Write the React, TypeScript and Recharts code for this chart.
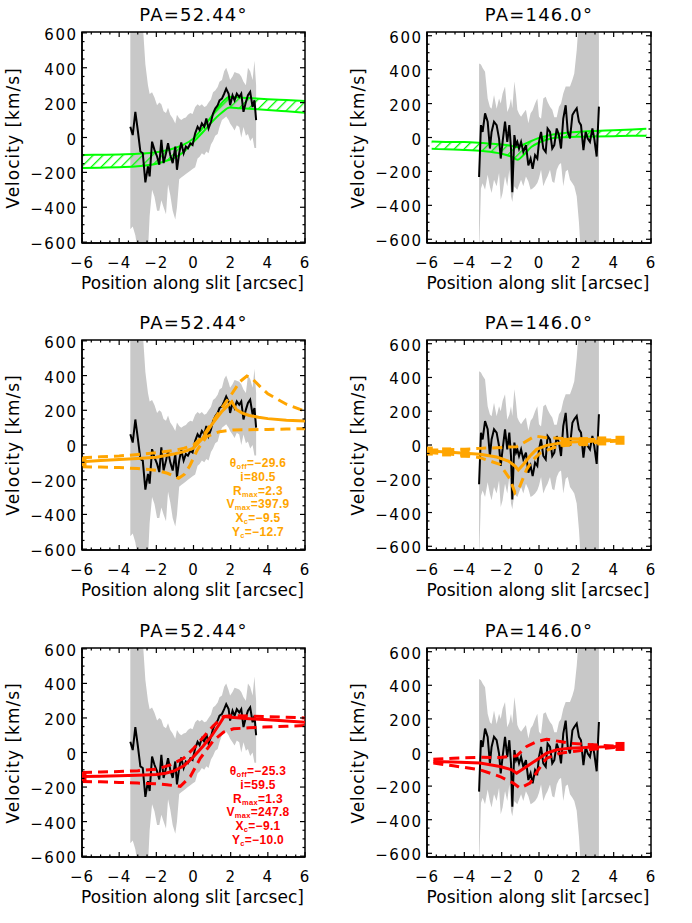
import React from 'react'
import { ComposedChart, Area, Line, Scatter, XAxis, YAxis, ReferenceArea } from 'recharts'

// observed slit, PA = 52.44
const obsX52 = [-3.40, -3.27, -3.13, -3.00, -2.86, -2.73, -2.59, -2.45, -2.36, -2.23, -2.10, -1.96, -1.84, -1.73, -1.61, -1.48, -1.37, -1.25, -1.12, -0.98, -0.89, -0.77, -0.66, -0.53, -0.41, -0.30, -0.17, -0.05, 0.09, 0.22, 0.33, 0.45, 0.58, 0.69, 0.81, 0.94, 1.05, 1.17, 1.30, 1.40, 1.53, 1.65, 1.76, 1.89, 1.97, 2.10, 2.21, 2.33, 2.46, 2.57, 2.69, 2.82, 2.93, 3.05, 3.18, 3.28, 3.37]
const obsV52 = [62, 14, 147, 43, -80, -90, -257, -166, -223, -24, -71, -109, -156, -14, -147, -90, -33, -100, -147, -52, -185, -90, -29, -90, -52, -62, -33, -43, 24, 62, 43, 81, 62, 109, 52, 90, 137, 166, 185, 213, 223, 251, 280, 251, 185, 242, 213, 251, 232, 251, 147, 204, 242, 261, 175, 213, 100]
const errHi52 = [700, 700, 700, 700, 700, 650, 420, 300, 250, 260, 230, 185, 200, 190, 150, 140, 170, 130, 110, 80, 130, 110, 100, 110, 115, 130, 140, 135, 175, 190, 180, 190, 175, 180, 200, 220, 260, 270, 290, 320, 330, 380, 400, 360, 330, 350, 375, 370, 365, 350, 320, 300, 400, 380, 330, 440, 300]
const errLo52 = [-526, -510, -560, -650, -650, -650, -650, -650, -450, -300, -340, -420, -420, -360, -400, -440, -270, -330, -420, -470, -400, -240, -230, -220, -210, -200, -190, -180, -170, -120, -110, -90, -100, -80, -90, -40, -20, 10, 20, 60, 100, 110, 120, 100, 80, 60, 40, 70, 60, 0, 60, 10, 20, -20, 0, -60, -60]

// observed slit, PA = 146.0
const obsX146 = [-3.21, -3.11, -3.02, -2.89, -2.75, -2.63, -2.54, -2.41, -2.27, -2.14, -2.05, -1.95, -1.82, -1.70, -1.59, -1.50, -1.43, -1.32, -1.23, -1.16, -1.07, -0.96, -0.84, -0.70, -0.57, -0.45, -0.34, -0.21, -0.09, 0.00, 0.11, 0.23, 0.36, 0.46, 0.59, 0.71, 0.82, 0.95, 1.07, 1.18, 1.30, 1.43, 1.54, 1.66, 1.79, 1.89, 2.02, 2.14, 2.25, 2.38, 2.50, 2.61, 2.73, 2.86, 2.96, 3.09, 3.21]
const obsV146 = [-233, 73, 33, 142, 93, -65, 33, 93, 73, -6, -124, -26, 93, -26, 73, -65, -322, 14, -45, -26, -65, -26, -85, -45, -164, -124, -184, -104, -124, -26, 33, -65, -85, 53, 33, -65, -45, 53, 14, -65, 112, 190, 33, -6, 132, 152, 172, 93, 73, -75, 33, -6, -26, 53, -6, -112, 182]
const errHi146 = [437, 430, 410, 388, 230, 180, 170, 250, 170, 230, 200, 260, 300, 150, 180, 230, 172, 330, 250, 163, 140, 123, 143, 163, 84, 143, 160, 200, 230, 123, 110, 230, 240, 210, 182, 163, 120, 120, 182, 200, 260, 300, 300, 300, 340, 378, 515, 700, 700, 700, 700, 700, 700, 700, 700, 700, 700]
const errLo146 = [-700, -300, -270, -308, -220, -290, -327, -249, -288, -210, -367, -327, -229, -288, -190, -347, -380, -288, -300, -308, -280, -249, -288, -230, -260, -308, -300, -288, -268, -240, -190, -288, -250, -229, -190, -260, -268, -190, -160, -151, -288, -200, -190, -249, -270, -288, -347, -500, -700, -700, -700, -700, -700, -700, -700, -700, -700]

// hatched model range (top row)
const bandX52 = [-6, -5, -4, -3, -2, -1.5, -1, -0.5, 0, 0.5, 1, 1.5, 1.95, 2.5, 3, 4, 5, 6]
const bandHi52 = [-100, -99, -97, -93, -85, -75, -60, -40, -5, 55, 125, 195, 234, 229, 226, 220, 215, 210]
const bandLo52 = [-175, -173, -170, -165, -150, -135, -115, -80, -25, 30, 90, 140, 172, 168, 165, 158, 150, 142]
const bandX146 = [-5.75, -5, -4, -3, -2, -1.5, -1.15, -0.8, -0.4, 0, 0.5, 1, 1.5, 2, 3, 4, 5, 5.75]
const bandHi146 = [-24, -26, -27, -33, -41, -49, -57, -40, -20, -2, 12, 22, 28, 33, 39, 43, 47, 51]
const bandLo146 = [-67, -70, -73, -80, -96, -112, -131, -100, -55, -30, -10, 0, 2, 4, 6, 8, 10, 10]

// orange fit (middle row)
const fitOX52 = [-6, -5, -4, -3, -2, -1, -0.5, 0, 0.5, 1, 1.5, 2.06, 2.3, 2.6, 3, 3.5, 4, 5, 6]
const fitOV52 = [-96, -90, -84, -78, -70, -50, -38, -18, 40, 120, 190, 250, 205, 185, 170, 160, 152, 143, 138]
const upOX52 = [-6, -5, -4, -3, -2, -1, -0.5, 0, 0.5, 1, 1.5, 2, 2.5, 2.87, 3.2, 3.6, 4, 5, 6]
const upOV52 = [-73, -68, -63, -55, -45, -30, -18, 0, 50, 130, 210, 285, 365, 397, 378, 335, 295, 235, 195]
const loOX52 = [-6, -5, -4, -3, -2, -1.4, -0.8, -0.5, -0.2, 0.2, 0.7, 1.4, 2.1, 3, 4, 5, 6]
const loOV52 = [-125, -127, -130, -136, -146, -163, -192, -170, -120, -29, 48, 77, 86, 88, 90, 92, 94]
const sqOX52 = [-6]
const sqOV52 = [-96]

const fitOX146 = [-5.93, -4.95, -3.96, -3.16, -2.27, -1.64, -1.29, -1.11, -0.84, -0.48, -0.13, 0.41, 1.4, 2.38, 3.36, 4.34]
const fitOV146 = [-36, -41, -49, -55, -71, -95, -124, -148, -115, -65, -26, -2, 16, 20, 24, 28]
const upOX146 = [-5.93, -4.95, -3.96, -3.16, -2.27, -1.64, -1.2, -0.8, -0.21, 0.41, 1.4, 2.38, 3.36, 4.34]
const upOV146 = [-30, -28, -25, -20, -16, -12, -10, 15, 53, 43, 38, 34, 31, 28]
const loOX146 = [-5.93, -4.95, -3.96, -3.16, -2.09, -1.55, -1.29, -1.02, -0.66, -0.3, 0.05, 0.77, 1.66, 3.45, 4.34]
const loOV146 = [-44, -52, -62, -75, -115, -203, -282, -243, -144, -85, -49, -16, 4, 18, 24]
const sqOX146 = [-5.93, -4.95, -3.96, 1.4, 2.38, 3.36, 4.34]
const sqOV146 = [-36, -41, -49, 16, 20, 24, 28]

// red fit (bottom row)
const fitRX52 = [-6, -5, -4, -3, -2, -1.5, -1, -0.5, 0, 0.5, 1, 1.4, 1.65, 2, 2.5, 3, 4, 5, 6]
const fitRV52 = [-139, -137, -135, -132, -127, -120, -105, -75, -25, 35, 100, 165, 208, 204, 200, 196, 189, 182, 175]
const upRX52 = [-6, -5, -4, -3, -2, -1.25, -0.53, 0, 0.54, 1.08, 1.62, 2.15, 3, 3.76, 5, 6]
const upRV52 = [-116, -113, -110, -105, -97, -72, -34, 23, 90, 156, 208, 213, 211, 208, 204, 200]
const loRX52 = [-6, -5, -4, -3, -2, -1.43, -0.71, -0.17, 0.36, 1.08, 1.62, 2.15, 3, 3.76, 5, 6]
const loRV52 = [-168, -170, -173, -177, -181, -187, -196, -139, -34, 70, 118, 137, 143, 147, 152, 156]
const sqRX52 = [-6]
const sqRV52 = [-139]

const fitRX146 = [-5.66, -4.59, -3.16, -2.09, -1.46, -1.2, -0.66, -0.13, 0.41, 0.95, 1.66, 2.91, 4.34]
const fitRV146 = [-53, -57, -63, -83, -103, -123, -83, -44, -4, 16, 26, 32, 36]
const upRX146 = [-5.66, -4.59, -3.16, -2.09, -1.2, -0.66, -0.13, 0.41, 1.13, 1.66, 2.91, 4.34]
const upRV146 = [-40, -34, -28, -30, -20, 36, 65, 79, 65, 55, 46, 36]
const loRX146 = [-5.66, -4.59, -3.16, -2.09, -1.38, -1.02, -0.48, -0.04, 0.41, 1.13, 1.84, 2.91, 4.34]
const loRV146 = [-63, -79, -103, -143, -182, -212, -182, -103, -34, -4, 6, 20, 32]
const sqRX146 = [4.34]
const sqRV146 = [36]

const paLabels = ['PA=52.44°', 'PA=146.0°']
const orangeNotes = [['θ', 'off', '=−29.6'], ['i', '', '=80.5'], ['R', 'max', '=2.3'], ['V', 'max', '=397.9'], ['X', 'c', '=−9.5'], ['Y', 'c', '=−12.7']]
const redNotes = [['θ', 'off', '=−25.3'], ['i', '', '=59.5'], ['R', 'max', '=1.3'], ['V', 'max', '=247.8'], ['X', 'c', '=−9.1'], ['Y', 'c', '=−10.0']]

const X_MAJOR = [-6, -4, -2, 0, 2, 4, 6]
const Y_MAJOR = [-600, -400, -200, 0, 200, 400, 600]
const X_TICKS = Array.from({ length: 25 }, (_, i) => -6 + i * 0.5)
const Y_TICKS = Array.from({ length: 25 }, (_, i) => -600 + i * 50)

const FONT = '"DejaVu Sans", sans-serif'
const GREEN = '#00ff00'
const ORANGE = '#ffa500'
const RED = '#ff0000'
const GRAY = '#c8c8c8'

type Pt = { x: number; v: number }
type Rg = { x: number; r: number[] }

const pts = (xs: number[], vs: number[]): Pt[] => xs.map((x, i) => ({ x, v: vs[i] }))
const rng = (xs: number[], lo: number[], hi: number[]): Rg[] => xs.map((x, i) => ({ x, r: [lo[i], hi[i]] }))
const num = (n: number) => (n < 0 ? '\u2212' + Math.abs(n) : String(n))

type Fit = { color: string; solid: Pt[]; up: Pt[]; lo: Pt[]; sq: Pt[]; notes?: string[][] }

type PanelProps = {
  left: number
  top: number
  w: number
  h: number
  yMax: number
  title: string
  obs: Pt[]
  err: Rg[]
  band?: Rg[]
  hatchId?: string
  fit?: Fit
}

const PL = 82
const PT = 32

function Panel({ left, top, w, h, yMax, title, obs, err, band, hatchId, fit }: PanelProps) {
  const width = PL + w + 25
  const height = PT + h + 57

  const xTick = (p: any) => {
    const val = p.payload.value
    const major = X_MAJOR.includes(val)
    const len = major ? 5 : 2.5
    return (
      <g>
        <line x1={p.x} x2={p.x} y1={p.y} y2={p.y - len} stroke="#000" strokeWidth={1.2} />
        <line x1={p.x} x2={p.x} y1={p.y - h} y2={p.y - h + len} stroke="#000" strokeWidth={1.2} />
        {major && (
          <text x={p.x} y={p.y + 25} textAnchor="middle" fontSize={15} fontFamily={FONT} letterSpacing={1} fill="#000">
            {num(val)}
          </text>
        )}
      </g>
    )
  }

  const yTick = (p: any) => {
    const val = p.payload.value
    const major = Y_MAJOR.includes(val)
    const len = major ? 5 : 2.5
    return (
      <g>
        <line x1={p.x} x2={p.x + len} y1={p.y} y2={p.y} stroke="#000" strokeWidth={1.2} />
        <line x1={p.x + w} x2={p.x + w - len} y1={p.y} y2={p.y} stroke="#000" strokeWidth={1.2} />
        {major && (
          <text x={p.x - 4.5} y={p.y + 7} textAnchor="end" fontSize={15} fontFamily={FONT} letterSpacing={1.5} fill="#000">
            {num(val)}
          </text>
        )}
      </g>
    )
  }

  const square = (color: string) => (p: any) => (
    <rect x={p.cx - 4.5} y={p.cy - 4.5} width={9} height={9} fill={color} />
  )

  const cx = left + PL + w / 2

  return (
    <>
      <div style={{ position: 'absolute', left, top }}>
        <ComposedChart width={width} height={height} margin={{ top: PT, right: 25, bottom: 27, left: 22 }}>
          {hatchId && (
            <defs>
              <pattern id={hatchId} width={7} height={7} patternUnits="userSpaceOnUse" patternTransform="rotate(45)">
                <line x1={0} y1={0} x2={0} y2={7} stroke={GREEN} strokeWidth={2.6} />
              </pattern>
            </defs>
          )}
          <XAxis
            dataKey="x"
            type="number"
            domain={[-6, 6]}
            ticks={X_TICKS}
            interval={0}
            allowDataOverflow
            height={30}
            tickSize={0}
            tickMargin={0}
            tickLine={false}
            axisLine={{ stroke: '#000', strokeWidth: 1.5 }}
            tick={xTick}
          />
          <YAxis
            type="number"
            domain={[-yMax, yMax]}
            ticks={Y_TICKS}
            interval={0}
            allowDataOverflow
            width={60}
            tickSize={0}
            tickMargin={0}
            tickLine={false}
            axisLine={{ stroke: '#000', strokeWidth: 1.5 }}
            tick={yTick}
          />
          <Area data={err} dataKey="r" type="linear" stroke="none" fill={GRAY} fillOpacity={1} isAnimationActive={false} />
          <Line data={obs} dataKey="v" type="linear" stroke="#000" strokeWidth={2} dot={false} activeDot={false} isAnimationActive={false} />
          {band && (
            <Area
              data={band}
              dataKey="r"
              type="monotone"
              stroke={GREEN}
              strokeWidth={2}
              fill={`url(#${hatchId})`}
              fillOpacity={1}
              isAnimationActive={false}
            />
          )}
          {fit && (
            <Line data={fit.up} dataKey="v" type="linear" stroke={fit.color} strokeWidth={3} strokeDasharray="10 6" dot={false} activeDot={false} isAnimationActive={false} />
          )}
          {fit && (
            <Line data={fit.lo} dataKey="v" type="linear" stroke={fit.color} strokeWidth={3} strokeDasharray="10 6" dot={false} activeDot={false} isAnimationActive={false} />
          )}
          {fit && (
            <Line data={fit.solid} dataKey="v" type="linear" stroke={fit.color} strokeWidth={3} dot={false} activeDot={false} isAnimationActive={false} />
          )}
          {fit && <Scatter data={fit.sq} dataKey="v" fill={fit.color} shape={square(fit.color)} isAnimationActive={false} />}
          <ReferenceArea x1={-6} x2={6} y1={-yMax} y2={yMax} fill="none" fillOpacity={0} stroke="#000" strokeWidth={1.5} ifOverflow="visible" />
        </ComposedChart>
      </div>
      <div style={{ position: 'absolute', left: cx, top: top + PT - 17, transform: 'translate(-50%, -50%)', fontFamily: FONT, fontSize: 18, letterSpacing: 1.2, whiteSpace: 'nowrap', lineHeight: 1 }}>
        {title}
      </div>
      <div style={{ position: 'absolute', left: cx - 1, top: top + PT + h + 40, transform: 'translate(-50%, -50%)', fontFamily: FONT, fontSize: 17, whiteSpace: 'nowrap', lineHeight: 1 }}>
        Position along slit [arcsec]
      </div>
      <div style={{ position: 'absolute', left: left + PL - 69, top: top + PT + h / 2, transform: 'translate(-50%, -50%) rotate(-90deg)', fontFamily: FONT, fontSize: 17, letterSpacing: 1, whiteSpace: 'nowrap', lineHeight: 1 }}>
        Velocity [km/s]
      </div>
      {fit?.notes &&
        fit.notes.map((n, i) => (
          <div
            key={i}
            style={{
              position: 'absolute',
              left: left + PL + 176 - 60,
              width: 120,
              top: top + PT + 123 + i * 13.8 - 6,
              height: 12,
              lineHeight: '12px',
              textAlign: 'center',
              fontFamily: '"Liberation Sans", sans-serif',
              fontWeight: 'bold',
              fontSize: 12,
              letterSpacing: 0.3,
              color: fit.color,
              whiteSpace: 'nowrap',
              overflow: 'visible',
            }}
          >
            {n[0]}
            {n[1] && <span style={{ fontSize: 7.5, position: 'relative', top: 2 }}>{n[1]}</span>}
            {n[2]}
          </div>
        ))}
    </>
  )
}

export default function App() {
  const obs52 = pts(obsX52, obsV52)
  const err52 = rng(obsX52, errLo52, errHi52)
  const obs146 = pts(obsX146, obsV146)
  const err146 = rng(obsX146, errLo146, errHi146)

  const orange52: Fit = { color: ORANGE, solid: pts(fitOX52, fitOV52), up: pts(upOX52, upOV52), lo: pts(loOX52, loOV52), sq: pts(sqOX52, sqOV52), notes: orangeNotes }
  const orange146: Fit = { color: ORANGE, solid: pts(fitOX146, fitOV146), up: pts(upOX146, upOV146), lo: pts(loOX146, loOV146), sq: pts(sqOX146, sqOV146) }
  const red52: Fit = { color: RED, solid: pts(fitRX52, fitRV52), up: pts(upRX52, upRV52), lo: pts(loRX52, loRV52), sq: pts(sqRX52, sqRV52), notes: redNotes }
  const red146: Fit = { color: RED, solid: pts(fitRX146, fitRV146), up: pts(upRX146, upRV146), lo: pts(loRX146, loRV146), sq: pts(sqRX146, sqRV146) }

  return (
    <div style={{ position: 'absolute', left: 0, top: 0, width: 692, height: 923, background: '#fff', overflow: 'hidden' }}>
      <Panel left={0} top={0} w={223} h={211} yMax={605} title={paLabels[0]} obs={obs52} err={err52} band={rng(bandX52, bandLo52, bandHi52)} hatchId="hatch52" />
      <Panel left={345} top={0} w={224} h={211} yMax={622} title={paLabels[1]} obs={obs146} err={err146} band={rng(bandX146, bandLo146, bandHi146)} hatchId="hatch146" />
      <Panel left={0} top={308} w={223} h={210} yMax={605} title={paLabels[0]} obs={obs52} err={err52} fit={orange52} />
      <Panel left={345} top={308} w={224} h={210} yMax={622} title={paLabels[1]} obs={obs146} err={err146} fit={orange146} />
      <Panel left={0} top={616} w={223} h={209} yMax={605} title={paLabels[0]} obs={obs52} err={err52} fit={red52} />
      <Panel left={345} top={616} w={224} h={209} yMax={622} title={paLabels[1]} obs={obs146} err={err146} fit={red146} />
    </div>
  )
}
